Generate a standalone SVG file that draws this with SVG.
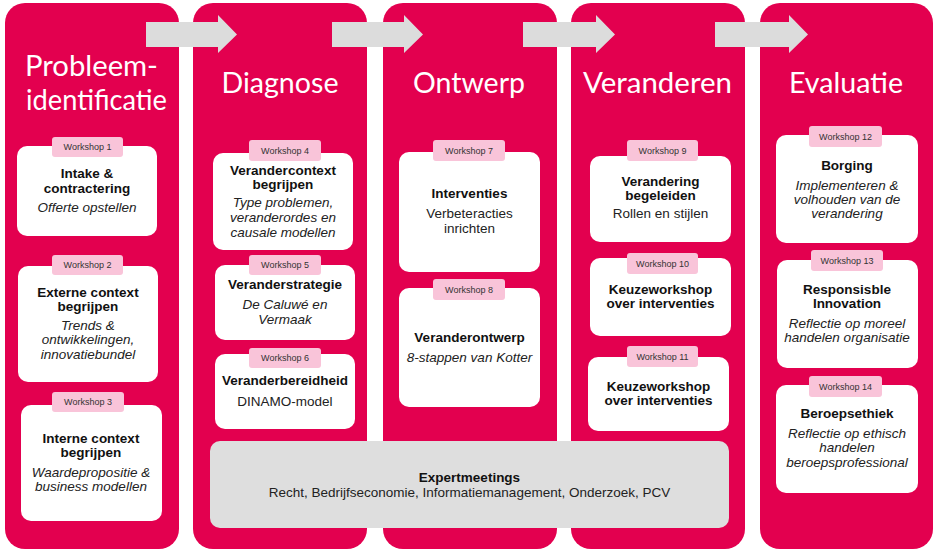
<svg xmlns="http://www.w3.org/2000/svg" width="938" height="553" viewBox="0 0 938 553">
<defs>
<style>
.col{fill:#e3004f}
.card{fill:#ffffff}
.tag{fill:#f9c4d9}
.exp{fill:#dedede}
.arrow{fill:#dcdcdc}
.title{font-family:Lato,"Open Sans",sans-serif;font-size:29px;fill:#ffffff;text-anchor:middle}
.tt{font-family:"Liberation Sans",Arial,sans-serif;font-size:9px;fill:#333333;text-anchor:middle}
.b{font-family:"Liberation Sans",Arial,sans-serif;font-size:13.5px;font-weight:bold;fill:#111111;text-anchor:middle}
.r{font-family:"Liberation Sans",Arial,sans-serif;font-size:13.5px;fill:#222222;text-anchor:middle}
.i{font-family:"Liberation Sans",Arial,sans-serif;font-size:13.5px;font-style:italic;fill:#222222;text-anchor:middle}
</style>
</defs>
<rect width="938" height="553" fill="#ffffff"/>
<g id="col-probleemidentificatie">
<rect class="col" x="5" y="3" width="174" height="546" rx="20"/>
<text class="title" x="91.5" y="76" textLength="133" lengthAdjust="spacingAndGlyphs">Probleem-</text>
<text class="title" x="96.5" y="110" textLength="141" lengthAdjust="spacingAndGlyphs">identificatie</text>
</g>
<g id="col-diagnose">
<rect class="col" x="193" y="3" width="174" height="546" rx="20"/>
<text class="title" x="280" y="93" textLength="117" lengthAdjust="spacingAndGlyphs">Diagnose</text>
</g>
<g id="col-ontwerp">
<rect class="col" x="383" y="3" width="174" height="546" rx="20"/>
<text class="title" x="469" y="93" textLength="112" lengthAdjust="spacingAndGlyphs">Ontwerp</text>
</g>
<g id="col-veranderen">
<rect class="col" x="571" y="3" width="174" height="546" rx="20"/>
<text class="title" x="657.5" y="93" textLength="149" lengthAdjust="spacingAndGlyphs">Veranderen</text>
</g>
<g id="col-evaluatie">
<rect class="col" x="760" y="3" width="173" height="546" rx="20"/>
<text class="title" x="846" y="93" textLength="114" lengthAdjust="spacingAndGlyphs">Evaluatie</text>
</g>
<g id="connectors">
<polygon class="arrow" points="146,22 218,22 218,15 237,34.5 218,53 218,47 146,47"/>
<polygon class="arrow" points="332,22 404,22 404,15 423,34.5 404,53 404,47 332,47"/>
<polygon class="arrow" points="523,22 596,22 596,15 615,34.5 596,53 596,47 523,47"/>
<polygon class="arrow" points="715,22 789,22 789,15 808,34.5 789,53 789,47 715,47"/>
</g>
<g id="ws1">
<rect class="card" x="17" y="146" width="140" height="90" rx="10"/>
<rect class="tag" x="52" y="137" width="71" height="20" rx="3"/>
<text class="tt" x="87.5" y="150">Workshop 1</text>
<text class="b" x="87" y="178">Intake &amp;</text>
<text class="b" x="87" y="193">contractering</text>
<text class="i" x="87" y="212">Offerte opstellen</text>
</g>
<g id="ws2">
<rect class="card" x="18" y="266" width="140" height="116" rx="10"/>
<rect class="tag" x="52" y="255" width="71" height="20" rx="3"/>
<text class="tt" x="87.5" y="268">Workshop 2</text>
<text class="b" x="88" y="297">Externe context</text>
<text class="b" x="88" y="311">begrijpen</text>
<text class="i" x="88" y="330">Trends &amp;</text>
<text class="i" x="88" y="344">ontwikkelingen,</text>
<text class="i" x="88" y="359">innovatiebundel</text>
</g>
<g id="ws3">
<rect class="card" x="21" y="405" width="141" height="116" rx="10"/>
<rect class="tag" x="52" y="392" width="72" height="20" rx="3"/>
<text class="tt" x="88" y="405">Workshop 3</text>
<text class="b" x="91" y="443">Interne context</text>
<text class="b" x="91" y="457">begrijpen</text>
<text class="i" x="91" y="477">Waardepropositie &amp;</text>
<text class="i" x="91" y="491">business modellen</text>
</g>
<g id="ws4">
<rect class="card" x="213" y="153" width="140" height="97" rx="10"/>
<rect class="tag" x="249" y="140" width="72" height="21" rx="3"/>
<text class="tt" x="285" y="154">Workshop 4</text>
<text class="b" x="283" y="175">Verandercontext</text>
<text class="b" x="283" y="189">begrijpen</text>
<text class="i" x="283" y="207">Type problemen,</text>
<text class="i" x="283" y="222">veranderordes en</text>
<text class="i" x="283" y="237">causale modellen</text>
</g>
<g id="ws5">
<rect class="card" x="215" y="265" width="140" height="75" rx="10"/>
<rect class="tag" x="249" y="255" width="72" height="20" rx="3"/>
<text class="tt" x="285" y="268">Workshop 5</text>
<text class="b" x="285" y="289">Veranderstrategie</text>
<text class="i" x="285" y="309">De Caluwé en</text>
<text class="i" x="285" y="324">Vermaak</text>
</g>
<g id="ws6">
<rect class="card" x="215" y="354" width="140" height="75" rx="10"/>
<rect class="tag" x="249" y="348" width="72" height="20" rx="3"/>
<text class="tt" x="285" y="361">Workshop 6</text>
<text class="b" x="285" y="385">Veranderbereidheid</text>
<text class="r" x="285" y="406">DINAMO-model</text>
</g>
<g id="ws7">
<rect class="card" x="399" y="152" width="141" height="120" rx="10"/>
<rect class="tag" x="433" y="140" width="72" height="21" rx="3"/>
<text class="tt" x="469" y="154">Workshop 7</text>
<text class="b" x="469.5" y="198">Interventies</text>
<text class="r" x="469.5" y="218">Verbeteracties</text>
<text class="r" x="469.5" y="233">inrichten</text>
</g>
<g id="ws8">
<rect class="card" x="399" y="288" width="141" height="119" rx="10"/>
<rect class="tag" x="433" y="279" width="72" height="21" rx="3"/>
<text class="tt" x="469" y="293">Workshop 8</text>
<text class="b" x="469.5" y="342">Veranderontwerp</text>
<text class="i" x="469.5" y="362">8-stappen van Kotter</text>
</g>
<g id="ws9">
<rect class="card" x="590" y="156" width="141" height="86" rx="10"/>
<rect class="tag" x="627" y="140" width="71" height="21" rx="3"/>
<text class="tt" x="662.5" y="154">Workshop 9</text>
<text class="b" x="660.5" y="186">Verandering</text>
<text class="b" x="660.5" y="200">begeleiden</text>
<text class="r" x="660.5" y="218">Rollen en stijlen</text>
</g>
<g id="ws10">
<rect class="card" x="590" y="258" width="141" height="78" rx="10"/>
<rect class="tag" x="627" y="253" width="71" height="21" rx="3"/>
<text class="tt" x="662.5" y="267">Workshop 10</text>
<text class="b" x="660.5" y="294">Keuzeworkshop</text>
<text class="b" x="660.5" y="308">over interventies</text>
</g>
<g id="ws11">
<rect class="card" x="588" y="357" width="141" height="74" rx="10"/>
<rect class="tag" x="627" y="346" width="71" height="21" rx="3"/>
<text class="tt" x="662.5" y="360">Workshop 11</text>
<text class="b" x="658.5" y="391">Keuzeworkshop</text>
<text class="b" x="658.5" y="405">over interventies</text>
</g>
<g id="expertmeetings">
<rect class="exp" x="210" y="441" width="519" height="87" rx="10"/>
<text class="b" x="469.5" y="482">Expertmeetings</text>
<text class="r" x="469.5" y="497">Recht, Bedrijfseconomie, Informatiemanagement, Onderzoek, PCV</text>
</g>
<g id="ws12">
<rect class="card" x="776" y="135" width="142" height="108" rx="10"/>
<rect class="tag" x="809" y="126" width="73" height="21" rx="3"/>
<text class="tt" x="845.5" y="140">Workshop 12</text>
<text class="b" x="847" y="170">Borging</text>
<text class="i" x="847" y="190">Implementeren &amp;</text>
<text class="i" x="847" y="204">volhouden van de</text>
<text class="i" x="847" y="218">verandering</text>
</g>
<g id="ws13">
<rect class="card" x="777" y="260" width="141" height="108" rx="10"/>
<rect class="tag" x="811" y="250" width="72" height="21" rx="3"/>
<text class="tt" x="847" y="264">Workshop 13</text>
<text class="b" x="847" y="294">Responsisble</text>
<text class="b" x="847" y="308">Innovation</text>
<text class="i" x="847" y="328">Reflectie op moreel</text>
<text class="i" x="847" y="342">handelen organisatie</text>
</g>
<g id="ws14">
<rect class="card" x="776" y="385" width="142" height="108" rx="10"/>
<rect class="tag" x="809" y="376" width="73" height="21" rx="3"/>
<text class="tt" x="845.5" y="390">Workshop 14</text>
<text class="b" x="847" y="418">Beroepsethiek</text>
<text class="i" x="847" y="438">Reflectie op ethisch</text>
<text class="i" x="847" y="452">handelen</text>
<text class="i" x="847" y="467">beroepsprofessional</text>
</g>
</svg>
